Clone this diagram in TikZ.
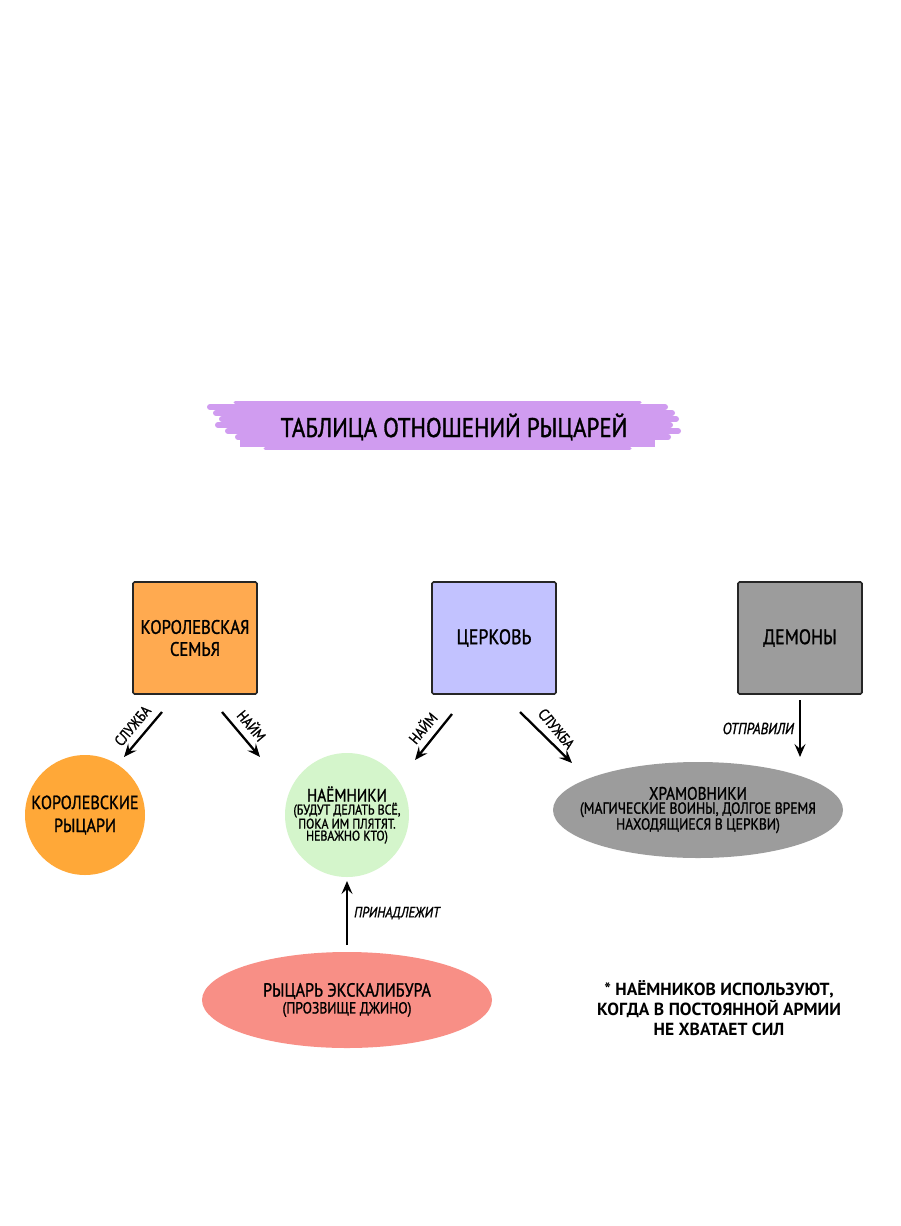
\documentclass[tikz,border=0pt]{standalone}
\usepackage{fontspec}
\setmainfont{PT Sans}[FakeStretch=0.85, FakeBold=1.2]
\newfontfamily\notefont{PT Sans}
\usetikzlibrary{arrows.meta,shapes.geometric}
\definecolor{obox}{HTML}{FFAA50}
\definecolor{ocirc}{HTML}{FFA838}
\definecolor{lav}{HTML}{C2C2FF}
\definecolor{grayc}{HTML}{9C9C9C}
\definecolor{greenc}{HTML}{D4F5CB}
\definecolor{salmon}{HTML}{F88F86}
\definecolor{brush}{HTML}{D09CF0}
\begin{document}
\begin{tikzpicture}[x=1pt,y=-1pt,
  box/.style={draw=black!85, line width=1.6pt, rounded corners=1.5pt, minimum width=124pt, minimum height=112pt, align=center, inner sep=0pt, font=\fontsize{19.5}{22}\selectfont},
  blob/.style={inner sep=0pt, align=center},
  arr/.style={-{Stealth[length=13pt,width=11pt,inset=5pt]}, line width=2.3pt},
  lbl/.style={font=\fontsize{15}{16}\selectfont, inner sep=3pt},
  streak/.style={brush, line cap=round},
  ttext/.style={font=\fontsize{27}{30}\selectfont}
]
\useasboundingbox[fill=white] (0,0) rectangle (900,1226);

% title brush
\fill[brush] (240,404) rectangle (655,447);
\draw[streak, line width=3pt] (235,402) -- (640,402);
\draw[streak, line width=6pt] (210,407) -- (665,407);
\draw[streak, line width=6pt] (216,413) -- (672,413);
\draw[streak, line width=6pt] (222,419) -- (676,419);
\draw[streak, line width=6pt] (218,425) -- (670,425);
\draw[streak, line width=6pt] (228,431) -- (678,431);
\draw[streak, line width=6pt] (238,437) -- (668,437);
\draw[streak, line width=6pt] (245,443) -- (650,443);
\draw[streak, line width=3pt] (265,448) -- (630,448);
\node[ttext] (title) at (454,427) {ТАБЛИЦА ОТНОШЕНИЙ РЫЦАРЕЙ};

% top boxes
\node[box, fill=obox] (kor) at (195,638) {КОРОЛЕВСКАЯ\\СЕМЬЯ};
\node[box, fill=lav, font=\fontsize{21}{24}\selectfont] (cer) at (494,638) {ЦЕРКОВЬ};
\node[box, fill=grayc, font=\fontsize{21}{24}\selectfont] (dem) at (800,638) {ДЕМОНЫ};

% second row
\node[blob, circle, fill=ocirc, minimum size=120pt, inner sep=-10pt, font=\fontsize{19}{23}\selectfont] (kr) at (85,815) {КОРОЛЕВСКИЕ\\РЫЦАРИ};
\node[blob, circle, fill=greenc, minimum size=124pt, inner sep=-12pt] (nae) at (347,815)
  {\fontsize{18}{20}\selectfont НАЁМНИКИ\\[1pt]
   \fontsize{14}{19}\selectfont (БУДУТ ДЕЛАТЬ ВСЁ,\\
   \fontsize{14}{19}\selectfont ПОКА ИМ ПЛЯТЯТ.\\
   \fontsize{14}{19}\selectfont НЕВАЖНО КТО)};
\node[blob, ellipse, fill=grayc, minimum width=290pt, minimum height=96pt, inner sep=-25pt] (hram) at (698,810)
  {\fontsize{18}{22}\selectfont ХРАМОВНИКИ\\[2pt]
   \fontsize{16}{20}\selectfont (МАГИЧЕСКИЕ ВОИНЫ, ДОЛГОЕ ВРЕМЯ\\
   \fontsize{16}{20}\selectfont НАХОДЯЩИЕСЯ В ЦЕРКВИ)};
\node[blob, ellipse, fill=salmon, minimum width=290pt, minimum height=96pt, inner sep=-10pt] (exc) at (347,1000)
  {\fontsize{19}{22}\selectfont РЫЦАРЬ ЭКСКАЛИБУРА\\[2pt]
   \fontsize{16}{18}\selectfont (ПРОЗВИЩЕ ДЖИНО)};

% connectors
\draw[arr] ([shift={(-33,74)}]kor.center) -- ([shift={(39,-58)}]kr.center)
  node[lbl, midway, rotate=50, above=4pt] (l1) {СЛУЖБА};
\draw[arr] ([shift={(27,74)}]kor.center) -- ([shift={(-87,-58)}]nae.center)
  node[lbl, midway, rotate=-50, above=4pt] (l2) {НАЙМ};
\draw[arr] ([shift={(-42,76)}]cer.center) -- ([shift={(68,-55)}]nae.center)
  node[lbl, midway, rotate=50, above=4pt] (l3) {НАЙМ};
\draw[arr] ([shift={(26,74)}]cer.center) -- ([shift={(-126,-47)}]hram.center)
  node[lbl, midway, rotate=-50, above=4pt] (l4) {СЛУЖБА};
\draw[arr] ([shift={(0,62)}]dem.center) -- ([shift={(102,-53)}]hram.center)
  node[lbl, midway, left=2pt, font=\itshape\fontsize{16}{18}\selectfont] (l5) {ОТПРАВИЛИ};
\draw[arr] ([shift={(0,-55)}]exc.center) -- ([shift={(0,66)}]nae.center)
  node[lbl, midway, right=3pt, font=\itshape\fontsize{15}{18}\selectfont] (l6) {ПРИНАДЛЕЖИТ};

% note
\node[align=center, font=\notefont\bfseries\fontsize{17.5}{20}\selectfont] (note) at (719,1008)
  {* НАЁМНИКОВ ИСПОЛЬЗУЮТ,\\КОГДА В ПОСТОЯННОЙ АРМИИ\\НЕ ХВАТАЕТ СИЛ};
\end{tikzpicture}
\end{document}
